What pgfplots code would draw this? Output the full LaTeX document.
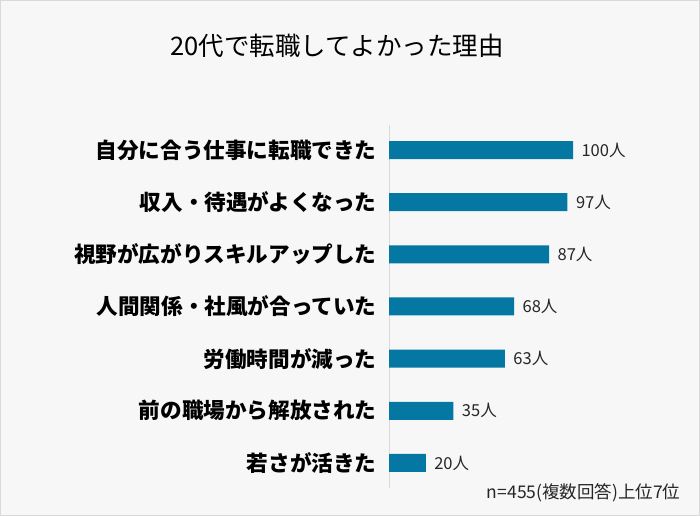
\documentclass[border=0pt]{standalone}
\usepackage{pgfplots}
\pgfplotsset{compat=1.18}
\usepackage{fontspec}
\setmainfont{Noto Sans CJK JP}
\definecolor{bgcol}{HTML}{F7F7F7}
\definecolor{bordercol}{HTML}{D9D9D9}
\definecolor{barcol}{HTML}{0478A2}
\definecolor{txtcol}{HTML}{262626}
\begin{document}
\begin{tikzpicture}[x=1pt,y=1pt]
\fill[bgcol] (0,0) rectangle (700,516);
\draw[bordercol,line width=1pt] (0.5,0.5) rectangle (699.5,515.5);
\node[font=\fontsize{25.5}{25.5}\selectfont, text=black] at (337,470) {20代で転職してよかった理由};
\node[font=\fontsize{17.5}{17.5}\selectfont, text=txtcol, anchor=east] at (684,23) {n=455(複数回答)上位7位};
\begin{axis}[
  at={(389pt,28pt)}, anchor=south west,
  scale only axis, width=184pt, height=363pt,
  xbar, bar width=18pt,
  xmin=0, xmax=100,
  ymin=-0.48, ymax=6.48,
  axis x line=none,
  axis y line=left,
  y axis line style={draw=bordercol, line width=1pt, -},
  ytick={0,1,2,3,4,5,6},
  major tick length=0pt,
  /pgf/number format/assume math mode=true,
  yticklabels={若さが活きた, 前の職場から解放された, 労働時間が減った, 人間関係・社風が合っていた, 視野が広がりスキルアップした, 収入・待遇がよくなった, 自分に合う仕事に転職できた},
  yticklabel style={font=\bfseries\fontsize{21.6}{21.6}\selectfont, text=black, xshift=-9pt},
  nodes near coords={\pgfmathprintnumber{\pgfplotspointmeta}人},
  every node near coord/.append style={font=\fontsize{16.5}{16.5}\selectfont, text=txtcol, xshift=5pt},
  clip=false,
]
\addplot[fill=barcol, draw=none] coordinates {(20,0) (35,1) (63,2) (68,3) (87,4) (97,5) (100,6)};
\end{axis}
\end{tikzpicture}
\end{document}
